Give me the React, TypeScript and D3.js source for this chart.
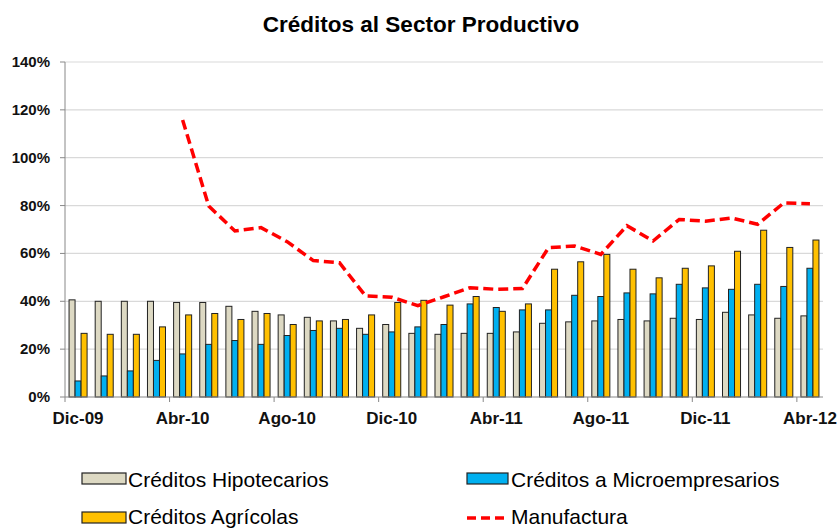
import React from "react";
import * as d3 from "d3";

const categories = [
  "Dic-09","Ene-10","Feb-10","Mar-10","Abr-10","May-10","Jun-10","Jul-10","Ago-10","Sep-10","Oct-10","Nov-10",
  "Dic-10","Ene-11","Feb-11","Mar-11","Abr-11","May-11","Jun-11","Jul-11","Ago-11","Sep-11","Oct-11","Nov-11",
  "Dic-11","Ene-12","Feb-12","Mar-12","Abr-12"
];
const hipotecarios = [40.6,40.0,40.0,40.0,39.5,39.5,37.9,35.8,34.3,33.3,31.8,28.7,30.3,26.6,26.2,26.6,26.6,27.2,30.8,31.4,31.8,32.4,31.8,32.9,32.4,35.4,34.3,32.9,33.9];
const microempresarios = [6.7,8.8,10.9,15.3,18.0,22.0,23.6,22.0,25.7,27.8,28.7,26.2,27.2,29.3,30.3,38.9,37.4,36.4,36.4,42.5,42.0,43.5,43.1,47.1,45.6,45.0,47.1,46.2,53.8];
const agricolas = [26.6,26.2,26.2,29.3,34.3,34.9,32.4,34.9,30.3,31.8,32.4,34.3,39.5,40.4,38.4,42.0,35.8,38.9,53.4,56.5,59.6,53.4,49.8,53.8,54.8,60.9,69.7,62.5,65.6];
const manufactura: (number | null)[] = [null,null,null,null,115.8,79.8,69.4,70.8,64.9,57.0,56.1,42.2,41.7,38.2,41.9,45.7,45.0,45.3,62.4,63.1,59.6,71.6,65.2,74.2,73.5,74.8,72.2,81.1,80.8];
const yTicks = [0,20,40,60,80,100,120,140];
const xTickLabels = ["Dic-09","Abr-10","Ago-10","Dic-10","Abr-11","Ago-11","Dic-11","Abr-12"];

const seriesNames = ["Créditos Hipotecarios","Créditos a Microempresarios","Créditos Agrícolas"];
const seriesColors = ["#ddd9c3","#00b0f0","#ffc000"];
const lineName = "Manufactura";

const W = 838, H = 529;
const left = 65, right = 823, top = 62, bottom = 397;
const FONT = "'Liberation Sans', Arial, sans-serif";

export default function App() {
  const x = d3.scaleBand<number>().domain(categories.map((_, i) => i)).range([left, right]).paddingInner(0.31).paddingOuter(0.155);
  const step = x.step();
  const xs = d3.scaleBand<number>().domain([0,1,2]).range([0, x.bandwidth()]);
  const y = d3.scaleLinear().domain([0, 140]).range([bottom, top]);
  const allSeries = [hipotecarios, microempresarios, agricolas];
  const line = d3.line<number | null>()
    .defined(d => d !== null)
    .x((_, i) => (x(i) as number) + x.bandwidth() / 2)
    .y(d => y(d as number));

  return (
    <svg width={W} height={H} style={{ position: "absolute", left: 0, top: 0, background: "#fff" }} fontFamily={FONT}>
      <rect x={0} y={0} width={W} height={H} fill="#fff" />
      <text x={421} y={32} textAnchor="middle" fontSize={22.5} fontWeight="bold" fill="#000">Créditos al Sector Productivo</text>
      {yTicks.filter(t => t > 0).map(t => (
        <line key={"g" + t} x1={left} x2={right} y1={y(t)} y2={y(t)} stroke="#d9d9d9" strokeWidth={1.2} />
      ))}
      {yTicks.map(t => (
        <g key={"y" + t}>
          <line x1={left - 5} x2={left} y1={y(t)} y2={y(t)} stroke="#888" strokeWidth={1} />
          <text x={50} y={y(t) + 5} textAnchor="end" fontSize={15} fontWeight="bold" fill="#111">{t}%</text>
        </g>
      ))}
      {allSeries.map((vals, s) => vals.map((v, i) => (
        <rect key={s + "-" + i}
          x={(x(i) as number) + (xs(s) as number)}
          y={y(v)}
          width={xs.bandwidth()}
          height={bottom - y(v)}
          fill={seriesColors[s]} stroke="#222" strokeWidth={1} />
      )))}
      <path d={line(manufactura) || ""} fill="none" stroke="#ff0000" strokeWidth={3.5} strokeDasharray="10,5" />
      <line x1={left} x2={left} y1={top} y2={bottom} stroke="#888" strokeWidth={1} />
      <line x1={left} x2={right} y1={bottom} y2={bottom} stroke="#888" strokeWidth={1} />
      {categories.map((c, i) => i % 4 === 0 ? (
        <g key={"x" + i}>
          <line x1={(x(i) as number) - step * 0.155} x2={(x(i) as number) - step * 0.155} y1={bottom} y2={bottom + 5} stroke="#888" strokeWidth={1} />
          <text x={(x(i) as number) + x.bandwidth() / 2} y={424} textAnchor="middle" fontSize={17} fontWeight="bold" fill="#111">{xTickLabels[i / 4]}</text>
        </g>
      ) : null)}
      <g fontSize={21} fill="#000">
        <rect x={82} y={473} width={44} height={11} fill={seriesColors[0]} stroke="#222" strokeWidth={1.2} />
        <text x={128} y={487}>{seriesNames[0]}</text>
        <rect x={467} y={473} width={41} height={11} fill={seriesColors[1]} stroke="#222" strokeWidth={1.2} />
        <text x={511} y={487}>{seriesNames[1]}</text>
        <rect x={82} y={512} width={44} height={11} fill={seriesColors[2]} stroke="#222" strokeWidth={1.2} />
        <text x={128} y={524}>{seriesNames[2]}</text>
        <line x1={467} x2={506} y1={518} y2={518} stroke="#ff0000" strokeWidth={3.5} strokeDasharray="9,5" />
        <text x={511} y={524}>{lineName}</text>
      </g>
    </svg>
  );
}
